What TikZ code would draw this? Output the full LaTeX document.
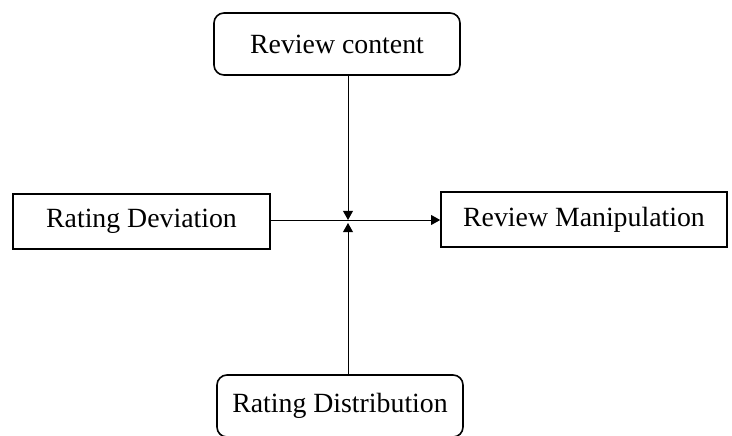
\documentclass[tikz,border=0pt]{standalone}
\usepackage{fontspec}
\setmainfont{Liberation Serif}
\usepackage{tikz}
\usetikzlibrary{positioning}
\usetikzlibrary{arrows.meta}
\tikzstyle{rbx}=[draw, line width=0.8pt, rounded corners=5pt, shape=rectangle, minimum width=123pt, minimum height=31pt, inner sep=1ex, font=\fontsize{13.9}{16}\selectfont]
\tikzstyle{sbx}=[draw, line width=0.8pt, shape=rectangle, minimum height=27.5pt, inner sep=1ex, font=\fontsize{13.9}{16}\selectfont]
\tikzstyle{farrow}=[line width=0.5pt, -{Triangle[length=4.6pt,width=5pt]}, color=black]
\tikzstyle{fline}=[line width=0.5pt, color=black]
\def\rbx{\node[style=rbx]}
\def\sbx{\node[style=sbx]}
\def\farrow{\draw[style=farrow]}
\def\fline{\draw[style=fline]}
\begin{document}
\begin{tikzpicture}[x=0.5pt, y=0.5pt]
      \useasboundingbox (0,0) rectangle (732,435);
      % next
      \rbx (Content) at (337,391) {Review content};
      \rbx (Distrib) at (340,29)  {Rating Distribution};
      \sbx (Deviat) [minimum width=128.5pt] at (141.5,213.5) {Rating Deviation};
      \sbx (Manip)  [minimum width=143pt]   at (584,215.5)   {Review Manipulation};

      \coordinate (Jtop) at (348,215);
      \coordinate (Jbot) at (348,212);
      % next
      \farrow (Content.south -| Jtop) -- (Jtop);
      \farrow (Distrib.north -| Jbot) -- (Jbot);
      \fline  (Deviat.east |- Jtop) -- (Jtop);
      \farrow (Jtop) -- (Manip.west |- Jtop);
\end{tikzpicture}
\end{document}
